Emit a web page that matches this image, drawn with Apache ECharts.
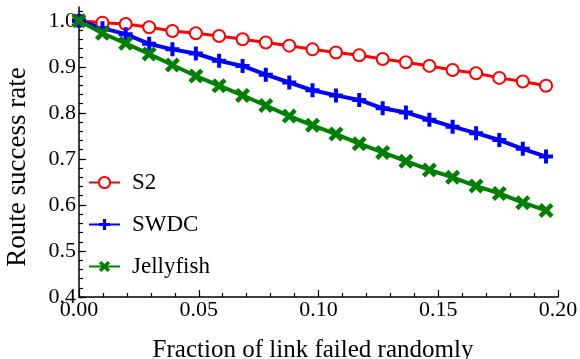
<!DOCTYPE html>
<html>
<head>
<meta charset="utf-8">
<script src="https://cdn.jsdelivr.net/npm/echarts@6/dist/echarts.min.js"></script>
<style>html,body{margin:0;padding:0;background:#fff}#c{width:580px;height:359px}</style>
</head>
<body>
<div id="c"></div>
<script>
var fractions = [0, 0.0098, 0.0195, 0.0293, 0.039, 0.0488, 0.0585, 0.0683, 0.078, 0.0878, 0.0975, 0.1073, 0.117, 0.1268, 0.1365, 0.1463, 0.156, 0.1658, 0.1755, 0.1853, 0.195];
var s2 = [1.000, 0.996, 0.993, 0.986, 0.978, 0.973, 0.967, 0.960, 0.953, 0.946, 0.938, 0.931, 0.925, 0.917, 0.910, 0.902, 0.893, 0.886, 0.876, 0.868, 0.859];
var swdc = [1.000, 0.984, 0.971, 0.950, 0.938, 0.929, 0.913, 0.902, 0.883, 0.866, 0.849, 0.838, 0.828, 0.810, 0.801, 0.785, 0.770, 0.756, 0.741, 0.722, 0.705];
var jellyfish = [1.000, 0.973, 0.951, 0.928, 0.904, 0.880, 0.859, 0.838, 0.816, 0.793, 0.773, 0.754, 0.733, 0.714, 0.695, 0.676, 0.660, 0.641, 0.625, 0.605, 0.588];
var yTicks = [0.4, 0.5, 0.6, 0.7, 0.8, 0.9, 1.0];
var yMinorTicks = [];
for (var k = 0; k <= 31; k++) { yMinorTicks.push(Math.round((0.4 + k * 0.02) * 1000) / 1000); }

function pairs(ys) { return ys.map(function (v, i) { return [fractions[i], v]; }); }

var FONT = 'Liberation Serif';
var plusPath = 'path://M5,0H9V5H14V9H9V14H5V9H0V5H5Z';
var crossPath = 'path://M0,3L3,0L7,4L11,0L14,3L10,7L14,11L11,14L7,10L3,14L0,11L4,7Z';

var chart = echarts.init(document.getElementById('c'), null, {renderer: 'canvas'});
chart.setOption({
  animation: false,
  backgroundColor: '#fff',
  grid: {left: 79, right: 22, top: 7, bottom: 62, containLabel: false, outerBoundsMode: 'none'},
  legend: {
    orient: 'vertical', left: 83, top: 166,
    itemWidth: 31, itemHeight: 14, itemGap: 19,
    textStyle: {fontFamily: FONT, fontSize: 23, color: '#000', lineHeight: 22, padding: [0, 0, 0, 7]},
    data: ['S2', 'SWDC', 'Jellyfish']
  },
  xAxis: {
    type: 'value', min: 0, max: 0.2, interval: 0.05,
    name: 'Fraction of link failed randomly', nameLocation: 'middle', nameGap: 41,
    nameTextStyle: {fontFamily: FONT, fontSize: 25, color: '#000', padding: [0, 11, 0, 0]},
    axisLine: {show: true, lineStyle: {color: '#000', width: 1.5}},
    axisTick: {show: true, inside: true, length: 7, lineStyle: {color: '#000', width: 1.2}},
    minorTick: {show: true, splitNumber: 5, length: 4, lineStyle: {color: '#000', width: 1.2}},
    axisLabel: {fontFamily: FONT, fontSize: 22, color: '#000', margin: 2,
      formatter: function (v) { return v.toFixed(2); }},
    splitLine: {show: false}
  },
  yAxis: [{
    type: 'value', min: 0.4, max: 1.03, position: 'left', offset: 0,
    name: 'Route success rate', nameLocation: 'middle', nameGap: 48, nameRotate: 90,
    nameTextStyle: {fontFamily: FONT, fontSize: 27, color: '#000', padding: [0, 30, 0, 0]},
    axisLine: {show: true, lineStyle: {color: '#000', width: 1.5}},
    axisTick: {show: true, inside: true, length: 7, customValues: yTicks, lineStyle: {color: '#000', width: 1.2}},
    axisLabel: {fontFamily: FONT, fontSize: 22, color: '#000', margin: 3, customValues: yTicks,
      formatter: function (v) { return v.toFixed(1); }},
    splitLine: {show: false}
  }, {
    type: 'value', min: 0.4, max: 1.03, position: 'left', offset: 0,
    axisLine: {show: false},
    axisTick: {show: true, inside: true, length: 4, customValues: yMinorTicks, lineStyle: {color: '#000', width: 1.2}},
    axisLabel: {show: false},
    splitLine: {show: false}
  }],
  series: [{
    name: 'S2', type: 'line', data: pairs(s2), yAxisIndex: 0,
    symbol: 'emptyCircle', symbolSize: 12,
    lineStyle: {color: '#ff0000', width: 3},
    itemStyle: {color: '#ff0000', borderColor: '#ff0000', borderWidth: 2.5}
  }, {
    name: 'SWDC', type: 'line', data: pairs(swdc), yAxisIndex: 0,
    symbol: plusPath, symbolSize: 14,
    lineStyle: {color: '#0000ff', width: 4},
    itemStyle: {color: '#0000ff', borderWidth: 0}
  }, {
    name: 'Jellyfish', type: 'line', data: pairs(jellyfish), yAxisIndex: 0,
    symbol: crossPath, symbolSize: 15,
    lineStyle: {color: '#008000', width: 4},
    itemStyle: {color: '#008000', borderWidth: 0}
  }]
});
</script>
</body>
</html>
